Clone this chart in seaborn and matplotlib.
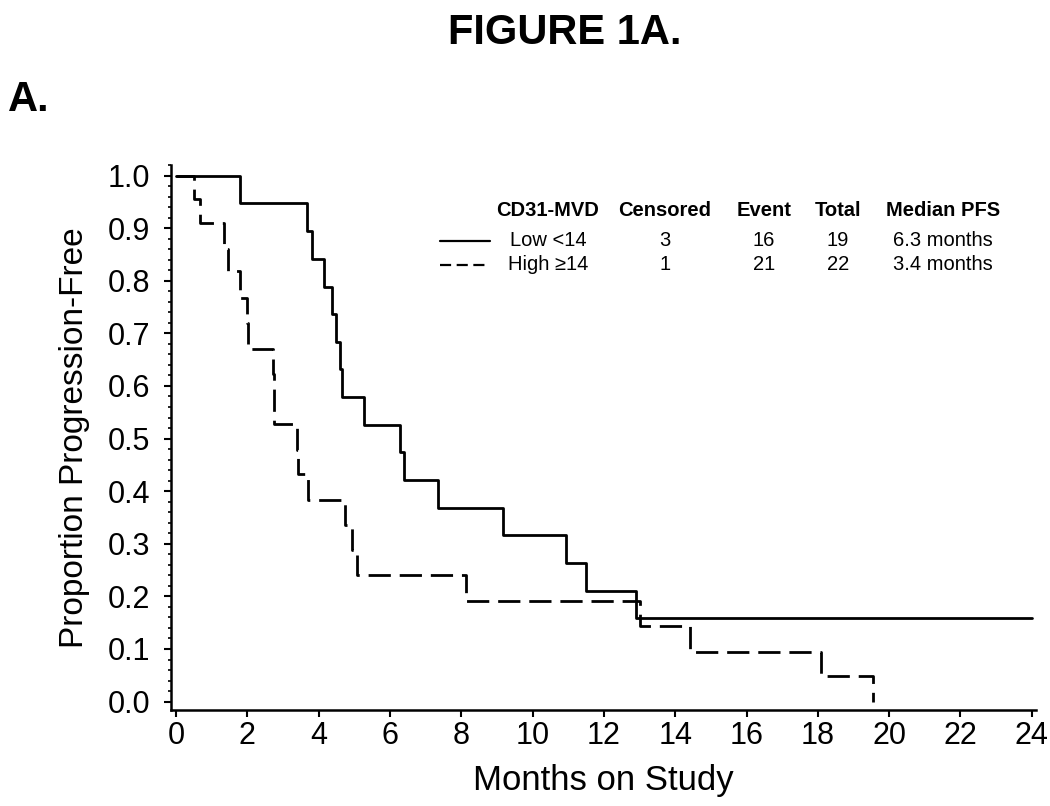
import matplotlib
matplotlib.use('Agg')
import matplotlib.pyplot as plt
from matplotlib.lines import Line2D
from matplotlib.ticker import MultipleLocator
import seaborn as sns
import pandas as pd

# Kaplan-Meier step points
low_time = [0, 1.80, 3.67, 3.81, 4.16, 4.37, 4.48, 4.60, 4.65, 5.26, 6.28, 6.40,
            7.36, 9.18, 10.95, 11.49, 12.89, 24.0]
low_surv = [1.0, 0.947, 0.895, 0.842, 0.789, 0.737, 0.684, 0.632, 0.579, 0.526,
            0.474, 0.421, 0.368, 0.316, 0.263, 0.211, 0.158, 0.158]

high_time = [0, 0.49, 0.66, 1.34, 1.45, 1.80, 1.99, 2.03, 2.72, 2.74, 2.76, 3.40,
             3.43, 3.71, 4.74, 4.93, 5.07, 8.13, 13.0, 14.41, 18.1, 19.54]
high_surv = [1.0, 0.955, 0.91, 0.861, 0.818, 0.768, 0.72, 0.671, 0.623, 0.576,
             0.527, 0.479, 0.432, 0.383, 0.335, 0.288, 0.240, 0.191, 0.143,
             0.095, 0.048, 0.0]

# legend table
groups = ['Low <14', 'High \u226514']
censored = [3, 1]
events = [16, 21]
totals = [19, 22]
medians = ['6.3 months', '3.4 months']
headers = ['CD31-MVD', 'Censored', 'Event', 'Total', 'Median PFS']

sns.set_style('ticks')
plt.rcParams['font.family'] = ['Liberation Sans', 'DejaVu Sans']
plt.rcParams['text.color'] = 'black'
plt.rcParams['axes.labelcolor'] = 'black'

fig = plt.figure(figsize=(10.5, 8.06), dpi=100)
ax = fig.add_axes([0.1629, 0.1191, 0.8238, 0.6762])

low_df = pd.DataFrame({'time': low_time, 'surv': low_surv})
high_df = pd.DataFrame({'time': high_time, 'surv': high_surv})

sns.lineplot(data=low_df, x='time', y='surv', estimator=None, drawstyle='steps-post',
             color='black', linewidth=2.0, ax=ax)
sns.lineplot(data=high_df, x='time', y='surv', estimator=None, drawstyle='steps-post',
             color='black', linewidth=2.0, linestyle=(0, (8, 3.2)), ax=ax)

ax.set_xlim(-0.14, 24.12)
ax.set_ylim(-0.016, 1.02)
ax.set_xticks(range(0, 25, 2))
ax.set_yticks([i / 10 for i in range(11)])
ax.set_yticklabels([f'{i / 10:.1f}' for i in range(11)])
ax.yaxis.set_minor_locator(MultipleLocator(0.02))
ax.tick_params(axis='both', which='major', labelsize=22, width=1.5, length=5,
               color='black', labelcolor='black')
ax.tick_params(axis='y', which='major', pad=10)
ax.tick_params(axis='x', which='major', pad=3)
ax.tick_params(axis='y', which='minor', width=1.2, length=2.5, color='black')
for s in ['left', 'bottom']:
    ax.spines[s].set_linewidth(1.8)
    ax.spines[s].set_color('black')
sns.despine(ax=ax)

ax.set_xlabel('Months on Study', fontsize=25, labelpad=9, color='black')
ax.set_ylabel('Proportion Progression-Free', fontsize=24, labelpad=13, color='black')

fig.text(0.538, 0.959, 'FIGURE 1A.', ha='center', va='center',
         fontsize=30, fontweight='bold', color='black')
fig.text(0.008, 0.876, 'A.', ha='left', va='center', fontsize=30,
         fontweight='bold', color='black')

# legend table (figure pixel positions converted to fractions)
W, H = 1050, 806
col_x = [548, 665, 764, 838, 943]
for cx, h in zip(col_x, headers):
    fig.text(cx / W, 1 - 210 / H, h, ha='center', va='center', fontsize=14.5,
             fontweight='bold', color='black')
row_y = [241, 265]
styles = ['-', (0, (5, 2.5))]
for i in range(2):
    y = 1 - row_y[i] / H
    fig.add_artist(Line2D([440 / W, 490 / W], [y, y], color='black',
                          linewidth=1.6, linestyle=styles[i]))
    vals = [groups[i], str(censored[i]), str(events[i]), str(totals[i]), medians[i]]
    for cx, v in zip(col_x, vals):
        fig.text(cx / W, y, v, ha='center', va='center', fontsize=14.5, color='black')

fig.savefig('out.png', dpi=100)
